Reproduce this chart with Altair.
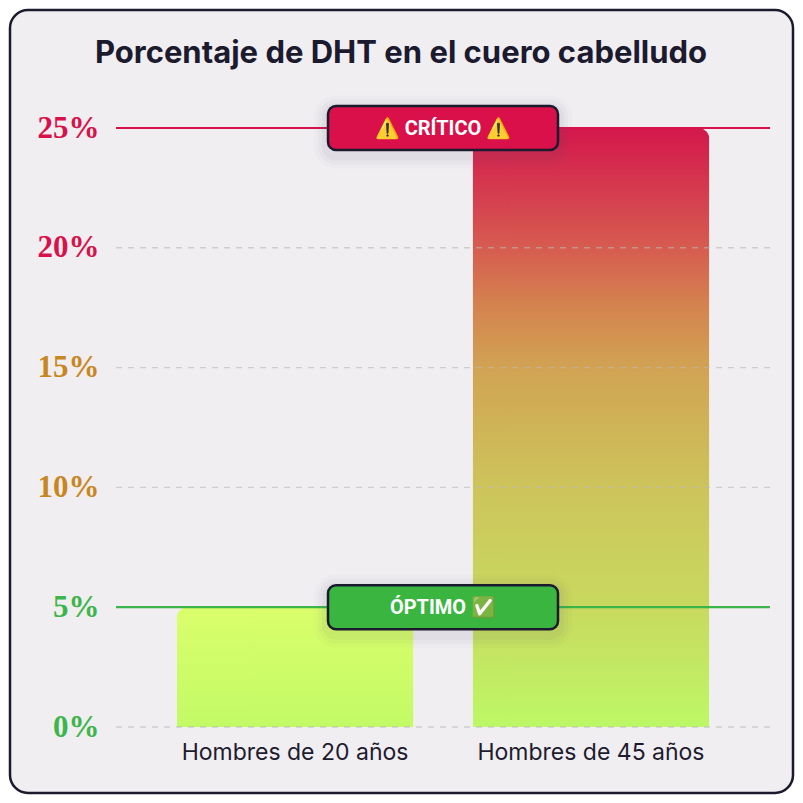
import altair as alt
import pandas as pd

# ---- data ----
categories = ["Hombres de 20 años", "Hombres de 45 años"]
values = [5, 25]
y_ticks = [0, 5, 10, 15, 20, 25]
threshold_values = [25, 5]
threshold_labels = ["⚠️ CRÍTICO ⚠️", "ÓPTIMO ✅"]
threshold_colors = ["#d9104a", "#3ab53f"]
threshold_line_colors = ["#d9114a", "#3cb54a"]
title_text = "Porcentaje de DHT en el cuero cabelludo"

W, H = 654, 599
PAD_L, PAD_T = 108, 120
TOTAL = 787

bars = pd.DataFrame({"cat": categories, "value": values})
thr = pd.DataFrame({"value": threshold_values, "label": threshold_labels,
                    "fill": threshold_colors, "line": threshold_line_colors})
grid = pd.DataFrame({"value": y_ticks})
dummy = pd.DataFrame({"k": [0]})

x_enc = alt.X("cat:N", scale=alt.Scale(domain=categories, paddingInner=0.2, paddingOuter=0.205),
              axis=alt.Axis(title=None, labelAngle=0, labelFont="Inter", labelFontSize=23,
                            labelColor="#1d1b2e", labelPadding=14, domain=False, ticks=False,
                            labelLimit=0, zindex=1))
y_enc = alt.Y("value:Q", scale=alt.Scale(domain=[0, 25], nice=False),
              axis=alt.Axis(title=None, values=y_ticks, grid=False, domain=False, ticks=False,
                            labelExpr="datum.value + '%'", labelFont="Liberation Serif",
                            labelFontSize=31, labelFontWeight="bold", labelPadding=17,
                            zindex=1,
                            labelColor={"condition": [
                                {"test": "datum.value >= 20", "value": "#d9114a"},
                                {"test": "datum.value >= 10", "value": "#c8861e"}],
                                "value": "#3cb54a"}))

border = alt.Chart(dummy).mark_rect(
    fill="#f0eef1", stroke="#1b1a2e", strokeWidth=2.5, cornerRadius=18
).encode(x=alt.value(-106), x2=alt.value(TOTAL - PAD_L - 2),
         y=alt.value(-118), y2=alt.value(TOTAL - PAD_T - 2))

grad1 = {"gradient": "linear", "x1": 0, "y1": 1, "x2": 0, "y2": 0,
         "stops": [{"offset": 0, "color": "#c2fa66"}, {"offset": 1, "color": "#dafe6b"}]}
grad2 = {"gradient": "linear", "x1": 0, "y1": 1, "x2": 0, "y2": 0,
         "stops": [{"offset": 0, "color": "#bdf866"},
                   {"offset": 0.2, "color": "#c8d95f"},
                   {"offset": 0.4, "color": "#cdc45b"},
                   {"offset": 0.6, "color": "#d1a353"},
                   {"offset": 0.7, "color": "#d4844f"},
                   {"offset": 0.8, "color": "#d65c50"},
                   {"offset": 1, "color": "#d4174c"}]}

bar1 = alt.Chart(bars[bars.cat == categories[0]]).mark_bar(
    color=grad1, cornerRadiusTopLeft=11, cornerRadiusTopRight=11
).encode(x=x_enc, y=y_enc)
bar2 = alt.Chart(bars[bars.cat == categories[1]]).mark_bar(
    color=grad2, cornerRadiusTopLeft=11, cornerRadiusTopRight=11
).encode(x=x_enc, y=y_enc)

grid_rules = alt.Chart(grid).mark_rule(
    color="#b9b9b9", strokeDash=[6, 6], strokeWidth=1.4, opacity=0.6
).encode(y="value:Q")

thr_rules = alt.Chart(thr).mark_rule(strokeWidth=2.2).encode(
    y="value:Q", color=alt.Color("line:N", scale=None))

shadows = []
for e, op in [(14, 0.025), (10, 0.035), (6, 0.05)]:
    shadows.append(alt.Chart(thr).mark_rect(
        color="#5a5870", opacity=op, cornerRadius=8 + e,
        yOffset=-22.5 - e + 4, y2Offset=22.5 + e + 4
    ).encode(x=alt.value(212 - e), x2=alt.value(442 + e), y="value:Q", y2="value:Q"))

boxes = alt.Chart(thr).mark_rect(
    stroke="#1b1a2e", strokeWidth=2.5, cornerRadius=8, yOffset=-22, y2Offset=22
).encode(x=alt.value(212), x2=alt.value(442), y="value:Q", y2="value:Q",
         fill=alt.Fill("fill:N", scale=None))

box_text = alt.Chart(thr).mark_text(
    font="Roboto", fontSize=20, fontWeight="bold", color="white", baseline="middle", dy=1
).encode(x=alt.value(327), y="value:Q", text="label:N")

title = alt.Chart(dummy).mark_text(
    text=title_text, font="Inter", fontSize=31, fontWeight="bold", color="#1b1a2e",
    baseline="alphabetic", align="center"
).encode(x=alt.value(285), y=alt.value(-65))

chart = alt.layer(border, bar1, bar2, grid_rules, thr_rules, *shadows, boxes, box_text, title).properties(
    width=W, height=H,
    padding={"left": PAD_L, "top": PAD_T, "right": TOTAL - PAD_L - W, "bottom": TOTAL - PAD_T - H},
    autosize=alt.AutoSizeParams(type="none"),
    background="#ffffff",
).configure_view(stroke=None)

chart.save("out.html", embed_options={"renderer": "svg", "actions": False})
